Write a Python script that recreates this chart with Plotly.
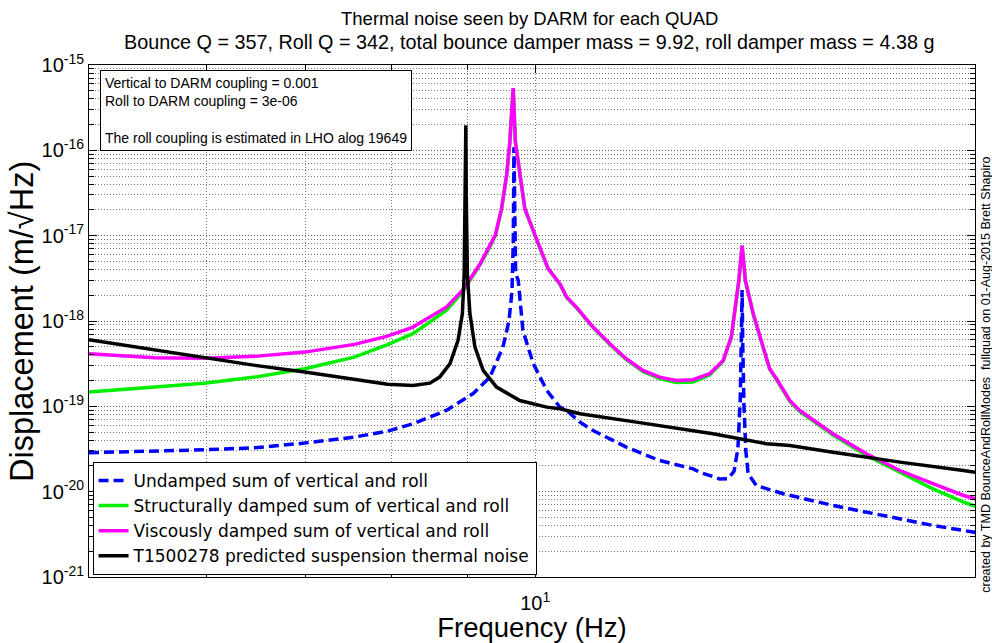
import plotly.graph_objects as go

# ---------------- data ----------------
undamped_freq = [5.00, 5.54, 5.98, 6.47, 6.99, 7.55, 7.95, 8.27, 8.71, 9.08, 9.32, 9.51,
                 9.60, 9.645, 9.665, 9.675, 9.685, 9.70, 9.74, 9.81, 9.97, 10.18, 10.39,
                 10.50, 10.72, 10.94, 11.52, 12.13, 12.78, 12.91, 13.32, 13.50, 13.62,
                 13.70, 13.75, 13.775, 13.79, 13.805, 13.83, 13.87, 13.92, 14.10, 14.70,
                 15.88, 17.17, 18.55, 19.45, 20.0]
undamped_disp = [2.86e-20, 2.96e-20, 3.10e-20, 3.27e-20, 3.71e-20, 4.36e-20, 5.12e-20,
                 6.25e-20, 8.95e-20, 1.41e-19, 2.20e-19, 4.94e-19, 1.0e-18, 2.2e-18,
                 9e-18, 1.09e-16, 9e-18, 3.6e-18, 2.99e-18, 7.76e-19, 3.16e-19, 1.54e-19,
                 9.79e-20, 8.95e-20, 6.53e-20, 5.21e-20, 3.33e-20, 2.32e-20, 1.85e-20,
                 1.69e-20, 1.41e-20, 1.42e-20, 1.75e-20, 3.2e-20, 1.2e-19, 5e-19,
                 2.3e-18, 5e-19, 1.0e-19, 3.0e-20, 1.62e-20, 1.18e-20, 9.45e-21,
                 6.89e-21, 5.26e-21, 4.02e-21, 3.51e-21, 3.24e-21]

struct_freq = [5.00, 5.54, 5.98, 6.47, 6.99, 7.55, 7.95, 8.27, 8.71, 8.93, 9.18, 9.30,
               9.40, 9.49, 9.565, 9.613, 9.663, 9.697, 9.763, 9.84, 10.00, 10.20, 10.39,
               10.50, 10.66, 10.94, 11.23, 11.52, 11.82, 12.13, 12.45, 12.78, 13.11,
               13.39, 13.56, 13.67, 13.72, 13.79, 13.86, 14.03, 14.25, 14.39, 14.55,
               14.85, 15.08, 15.88, 16.73, 17.62, 18.55, 19.45, 20.0]
struct_disp = [1.47e-19, 1.68e-19, 1.87e-19, 2.20e-19, 2.76e-19, 3.77e-19, 5.28e-19,
               7.10e-19, 1.33e-18, 2.18e-18, 4.6e-18, 6.9e-18, 1.0e-17, 2.05e-17,
               5.05e-17, 1.24e-16, 5.3e-16, 1.24e-16, 5.05e-17, 2.05e-17, 9.9e-18,
               4.1e-18, 2.72e-18, 1.89e-18, 1.43e-18, 8.35e-19, 5.3e-19, 3.52e-19,
               2.56e-19, 2.12e-19, 1.9e-19, 1.93e-19, 2.33e-19, 3.38e-19, 6.4e-19,
               1.9e-18, 2.95e-18, 7.6e-18, 2.95e-18, 1.2e-18, 4.85e-19, 2.74e-19,
               2.05e-19, 1.14e-19, 8.7e-20, 4.6e-20, 2.65e-20, 1.69e-20, 1.08e-20,
               7.53e-21, 6.35e-21]

visc_freq = [5.00, 5.54, 5.98, 6.47, 6.99, 7.55, 7.95, 8.27, 8.71, 8.93, 9.18, 9.30,
             9.40, 9.49, 9.565, 9.613, 9.663, 9.697, 9.763, 9.84, 10.00, 10.20, 10.39,
             10.50, 10.66, 10.94, 11.23, 11.52, 11.82, 12.13, 12.45, 12.78, 13.11,
             13.39, 13.56, 13.67, 13.72, 13.79, 13.86, 14.03, 14.25, 14.39, 14.55,
             14.85, 15.08, 15.88, 16.73, 17.62, 18.55, 19.45, 20.0]
visc_disp = [4.14e-19, 3.71e-19, 3.67e-19, 3.85e-19, 4.32e-19, 5.32e-19, 6.65e-19,
             8.48e-19, 1.45e-18, 2.28e-18, 4.69e-18, 7.0e-18, 1.02e-17, 2.07e-17,
             5.09e-17, 1.25e-16, 5.37e-16, 1.25e-16, 5.09e-17, 2.07e-17, 1.0e-17,
             4.15e-18, 2.74e-18, 1.91e-18, 1.45e-18, 8.48e-19, 5.42e-19, 3.61e-19,
             2.64e-19, 2.20e-19, 2.01e-19, 2.05e-19, 2.41e-19, 3.45e-19, 6.47e-19,
             1.91e-18, 3.0e-18, 7.69e-18, 2.99e-18, 1.22e-18, 4.94e-19, 2.78e-19,
             2.09e-19, 1.17e-19, 8.95e-20, 4.77e-20, 2.78e-20, 1.77e-20, 1.24e-20,
             9.02e-21, 7.9e-21]

therm_freq = [5.00, 5.54, 5.98, 6.47, 6.99, 7.55, 7.95, 8.27, 8.49, 8.62, 8.76, 8.87,
              8.93, 8.955, 8.972, 8.978, 8.984, 9.00, 9.035, 9.106, 9.223, 9.417, 9.763,
              10.18, 10.39, 10.72, 11.70, 12.91, 13.18, 14.32, 14.85, 15.88, 17.62,
              19.45, 20.0]
therm_disp = [6.04e-19, 4.6e-19, 3.71e-19, 3.02e-19, 2.52e-19, 2.05e-19, 1.81e-19,
              1.76e-19, 1.87e-19, 2.20e-19, 3.16e-19, 5.93e-19, 1.22e-18, 3.5e-18,
              3e-17, 1.96e-16, 3e-17, 3.5e-18, 1.22e-18, 4.94e-19, 2.64e-19, 1.68e-19,
              1.17e-19, 9.79e-20, 9.37e-20, 8.18e-20, 6.53e-20, 5.08e-20, 4.77e-20,
              3.65e-20, 3.48e-20, 2.90e-20, 2.22e-20, 1.77e-20, 1.65e-20]

series_names = ["Undamped sum of vertical and roll",
                "Structurally damped sum of vertical and roll",
                "Viscously damped sum of vertical and roll",
                "T1500278 predicted suspension thermal noise"]

x_major_ticks = [10]
x_major_text = ["10<sup>1</sup>"]
x_minor_ticks = [6, 7, 8, 9]
y_major_ticks = [1e-21, 1e-20, 1e-19, 1e-18, 1e-17, 1e-16, 1e-15]
y_major_text = ["10<sup>-21</sup>", "10<sup>-20</sup>", "10<sup>-19</sup>", "10<sup>-18</sup>",
                "10<sup>-17</sup>", "10<sup>-16</sup>", "10<sup>-15</sup>"]
y_minor_ticks = [m * 10.0 ** e for e in range(-21, -15) for m in range(2, 10)]

title_line1 = "Thermal noise seen by DARM for each QUAD"
title_line2 = ("Bounce Q = 357, Roll Q = 342, total bounce damper mass = 9.92, "
               "roll damper mass = 4.38 g")
info_text = ("Vertical to DARM coupling = 0.001<br>Roll to DARM coupling = 3e-06<br><br>"
             "The roll coupling is estimated in LHO alog 19649")
credit_text = "created by TMD BounceAndRollModes  fullquad on 01-Aug-2015 Brett Shapiro"
x_title = "Frequency (Hz)"
y_title = "Displacement (m/√Hz)"

FONT = "Liberation Sans, Arial, sans-serif"
LEGEND_FONT = "DejaVu Sans, Liberation Sans, sans-serif"
GRID_DASH = "1px,2px"

fig = go.Figure()
fig.add_trace(go.Scatter(x=undamped_freq, y=undamped_disp, mode="lines", name=series_names[0],
                         line=dict(color="#0000FF", width=3.5, dash="10px,5px")))
fig.add_trace(go.Scatter(x=struct_freq, y=struct_disp, mode="lines", name=series_names[1],
                         line=dict(color="#00EE00", width=3.5)))
fig.add_trace(go.Scatter(x=visc_freq, y=visc_disp, mode="lines", name=series_names[2],
                         line=dict(color="#FF00FF", width=3.5)))
fig.add_trace(go.Scatter(x=therm_freq, y=therm_disp, mode="lines", name=series_names[3],
                         line=dict(color="#000000", width=3.5)))

# plot area: x 89..975 px, y 65..577 px
fig.update_layout(
    width=992, height=643,
    margin=dict(l=89, r=17, t=65, b=66, autoexpand=False),
    paper_bgcolor="white", plot_bgcolor="white",
    font=dict(family=FONT, color="black"),
    showlegend=True,
    legend=dict(x=0.004, y=0.004, xanchor="left", yanchor="bottom",
                bgcolor="white", bordercolor="black", borderwidth=1,
                font=dict(size=17, family=LEGEND_FONT), tracegroupgap=0,
                itemwidth=30),
    annotations=[
        dict(text=title_line1, xref="paper", yref="paper",
             x=0.497, y=1.0, yshift=47, xanchor="center", yanchor="middle", showarrow=False,
             font=dict(size=18.5, family=FONT)),
        dict(text=title_line2, xref="paper", yref="paper",
             x=0.497, y=1.0, yshift=23, xanchor="center", yanchor="middle", showarrow=False,
             font=dict(size=19.8, family=FONT)),
        dict(text=info_text, xref="paper", yref="paper", x=0.0124, y=0.99,
             xanchor="left", yanchor="top", align="left", showarrow=False,
             bgcolor="white", bordercolor="black", borderwidth=1, borderpad=4,
             font=dict(size=14, family=FONT)),
        dict(text=y_title, xref="paper", yref="paper", x=0.0, xshift=-67, y=0.5,
             yshift=-1, xanchor="center", yanchor="middle", textangle=-90,
             showarrow=False, font=dict(size=32.5, family=FONT)),
        dict(text=credit_text, xref="paper", yref="paper", x=1.0, y=0.395,
             xshift=2, xanchor="left", yanchor="middle", textangle=-90, showarrow=False,
             font=dict(size=12.5, family=FONT)),
    ],
)

fig.update_xaxes(type="log", range=[0.69897, 1.29667], automargin=False,
                 tickmode="array", tickvals=x_major_ticks, ticktext=x_major_text,
                 tickfont=dict(size=20), ticks="inside", ticklen=8, tickcolor="black",
                 ticklabelstandoff=8,
                 showline=True, linecolor="black", linewidth=1, mirror="ticks",
                 showgrid=True, gridcolor="#777777", griddash=GRID_DASH, gridwidth=1,
                 zeroline=False,
                 minor=dict(tickmode="array", tickvals=x_minor_ticks, ticks="inside",
                            ticklen=5, tickcolor="black", showgrid=True,
                            gridcolor="#777777", griddash=GRID_DASH, gridwidth=1),
                 title=dict(text=x_title, font=dict(size=27.5), standoff=5))
fig.update_yaxes(type="log", range=[-21, -15], automargin=False,
                 tickmode="array", tickvals=y_major_ticks, ticktext=y_major_text,
                 tickfont=dict(size=20), ticks="inside", ticklen=8, tickcolor="black",
                 showline=True, linecolor="black", linewidth=1, mirror="ticks",
                 showgrid=True, gridcolor="#555555", griddash=GRID_DASH, gridwidth=1,
                 zeroline=False,
                 minor=dict(tickmode="array", tickvals=y_minor_ticks, ticks="inside",
                            ticklen=5, tickcolor="black", showgrid=True,
                            gridcolor="#777777", griddash=GRID_DASH, gridwidth=1))

fig.write_html("out.html")
